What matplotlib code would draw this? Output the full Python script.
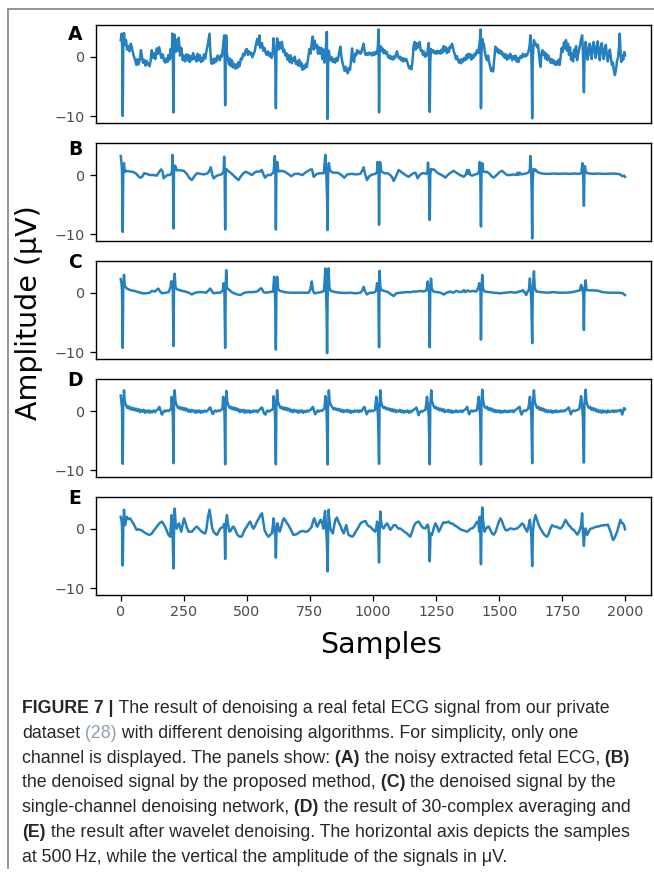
import matplotlib
matplotlib.use('Agg')
import matplotlib.pyplot as plt
from matplotlib import font_manager
from matplotlib.lines import Line2D

W, H = 654, 875

# (sample, amplitude in uV)
a_points = [
    (0, 2.8), (4, 3.9), (6, 1.0), (8, -10.0), (10, 1.5), (13, 4.0), (17, 2.0), (21, 2.8), (25, 1.2), (30, 1.8),
    (35, 0.9), (40, 2.2), (44, 1.6), (50, 0.4), (57, -0.6), (62, -1.4), (66, -0.4), (71, -1.3), (77, -0.2), (80, 1.1),
    (83, 0.3), (88, -1.0), (93, -0.5), (98, -1.5), (103, -0.7), (108, -1.2), (114, -1.6), (118, -0.8), (123, 1.1),
    (127, -0.2), (132, 0.6), (137, -0.4), (143, 1.4), (148, 0.5), (152, 1.6), (156, 0.8), (161, -0.2), (167, 0.4),
    (171, -0.6), (176, -1.0), (180, -0.3), (185, -0.9), (189, 0.3), (194, -0.5), (198, 1.3), (202, -0.2), (205, 3.9),
    (207, -1.0), (209, -9.4), (211, 0.5), (214, 3.7), (218, 0.8), (222, 2.8), (225, 1.0), (230, 3.2), (235, 0.2),
    (240, 1.5), (246, -0.6), (250, 0.2), (255, -0.8), (260, 0.4), (265, -0.6), (269, 0.3), (274, -0.9), (278, 0.1),
    (282, -0.5), (287, 0.6), (291, -0.4), (295, 0.0), (300, -0.8), (304, 0.5), (308, -0.6), (313, 0.3), (318, -0.9),
    (321, -0.2), (326, -0.7), (330, 0.4), (335, -0.3), (340, 1.0), (344, 1.8), (348, 2.8), (352, 3.9), (355, 1.0),
    (358, -0.8), (361, -1.2), (366, -0.4), (370, -1.1), (374, -0.3), (379, -0.8), (384, 0.2), (388, -0.2), (393, -0.6),
    (397, 0.3), (401, 0.0), (405, 1.5), (410, 3.6), (412, 0.5), (414, -8.2), (416, -0.5), (418, 3.6), (421, 0.5),
    (425, -0.4), (429, -1.3), (433, -0.3), (437, -1.6), (441, -0.6), (445, -1.8), (449, -1.2), (454, -2.0), (458, -1.3),
    (462, -1.9), (467, -0.9), (471, -1.6), (476, -0.3), (480, -0.5), (485, 0.5), (490, 0.2), (495, 1.1), (500, 1.3),
    (504, 0.3), (508, 0.9), (513, 0.4), (517, 0.7), (522, -0.1), (526, 0.4), (531, 0.9), (536, 2.0), (541, 3.0),
    (546, 2.0), (550, 3.6), (553, 1.5), (556, 2.0), (560, 2.3), (565, 1.0), (570, 1.5), (575, 0.6), (579, 0.3),
    (584, 0.9), (589, 0.1), (593, 0.6), (598, -0.2), (602, 0.5), (606, 3.1), (609, 0.5), (611, 1.0), (613, -1.0),
    (615, -8.7), (617, 0.5), (620, 3.1), (625, 1.2), (630, 2.4), (635, 1.4), (639, 2.5), (644, 0.8), (648, 1.2),
    (653, 0.2), (657, 0.6), (661, -0.5), (666, 0.3), (670, -0.9), (674, 0.2), (678, -1.1), (682, -0.3), (686, -0.7),
    (690, 0.0), (694, -1.2), (698, -0.8), (703, -1.5), (707, -0.5), (712, -1.6), (716, -1.0), (720, -2.2), (725, -1.5),
    (730, -2.0), (734, -1.2), (738, -1.7), (743, -0.2), (748, 1.3), (752, 0.5), (757, 2.2), (761, 3.4), (765, 1.2),
    (769, 2.7), (773, 1.5), (778, 2.0), (782, 0.5), (786, 1.6), (791, 0.5), (795, 1.5), (799, -0.4), (803, 1.2),
    (807, -1.0), (811, 0.6), (814, 2.0), (817, 4.2), (819, -2.0), (820, -10.5), (822, -1.5), (825, 1.0), (829, -0.2),
    (833, -0.6), (837, -0.1), (841, -0.9), (846, -0.4), (850, -1.0), (855, -0.2), (859, -0.7), (864, 0.2), (868, 1.2),
    (871, 1.7), (875, 0.0), (879, -1.0), (884, -1.8), (888, -2.4), (892, -1.7), (896, -2.2), (900, -2.8), (905, -1.9),
    (909, -2.2), (913, -0.6), (917, 1.4), (921, -0.5), (925, -0.9), (929, 0.5), (933, 0.2), (937, 1.1), (941, 0.6),
    (946, 0.9), (950, 0.5), (954, 0.8), (958, 1.5), (963, 2.2), (967, 0.8), (971, 0.3), (976, 0.6), (980, 0.3),
    (984, 0.7), (989, 0.4), (993, 0.6), (997, 0.2), (1002, 0.7), (1006, 0.3), (1010, 0.8), (1015, 0.5), (1019, 1.5),
    (1022, 4.6), (1024, -9.4), (1026, 0.5), (1030, 1.8), (1034, 1.0), (1038, 1.4), (1042, 0.6), (1046, 1.1), (1050, 0.5),
    (1055, 0.8), (1059, 0.1), (1063, -0.2), (1067, 0.2), (1071, -0.4), (1075, 0.0), (1080, -0.5), (1084, 0.1),
    (1088, -0.2), (1092, 0.5), (1095, 0.9), (1099, 0.2), (1103, -0.3), (1108, 0.0), (1112, -0.6), (1116, -0.2),
    (1120, -0.8), (1124, -0.3), (1128, -0.7), (1132, -0.4), (1136, -0.9), (1141, -1.7), (1145, -2.0), (1149, -1.6),
    (1153, -2.1), (1157, -0.5), (1161, 1.8), (1165, 2.5), (1169, 1.2), (1173, 2.3), (1177, 1.5), (1181, 2.0), (1185, 2.5),
    (1189, 1.0), (1194, 1.1), (1198, 0.3), (1202, 0.9), (1206, 0.0), (1210, 0.5), (1214, 0.2), (1218, 1.5), (1221, 2.3),
    (1223, -1.0), (1225, -9.3), (1227, -1.0), (1230, 1.3), (1234, 0.8), (1238, 1.1), (1242, 0.6), (1246, 0.9),
    (1251, 0.5), (1255, 1.0), (1259, 0.6), (1263, 0.9), (1267, 0.5), (1271, 1.2), (1276, 0.7), (1280, 1.8), (1284, 1.0),
    (1288, 1.6), (1293, 0.6), (1297, 1.4), (1301, 0.8), (1305, 1.7), (1309, 1.5), (1313, 2.2), (1317, 1.6), (1321, 0.8),
    (1325, 0.3), (1329, -0.4), (1333, 0.1), (1337, -0.6), (1341, -1.0), (1345, -0.5), (1349, -1.1), (1353, -0.4),
    (1357, -0.8), (1361, -0.2), (1366, -0.6), (1370, 0.3), (1374, -0.3), (1378, 0.5), (1382, -0.1), (1386, 0.4),
    (1390, -0.5), (1394, 0.2), (1398, -0.2), (1402, 0.5), (1406, 0.2), (1410, 0.9), (1413, 1.1), (1417, 0.6),
    (1421, 1.8), (1424, 2.8), (1426, 4.6), (1428, -8.7), (1430, 0.5), (1433, 3.0), (1436, 1.5), (1439, 2.2), (1443, 0.9),
    (1447, 0.0), (1452, -0.6), (1456, 0.2), (1460, -0.8), (1464, -1.6), (1468, -2.4), (1472, -2.0), (1476, -2.5),
    (1480, -0.6), (1485, 1.7), (1489, 0.9), (1493, 1.4), (1497, 0.6), (1502, 1.1), (1506, 0.5), (1510, 0.9), (1514, 0.2),
    (1518, 0.5), (1522, -0.2), (1527, 0.4), (1531, -0.5), (1535, 0.2), (1539, -0.3), (1544, 0.5), (1548, 0.0),
    (1552, -0.6), (1556, 0.1), (1560, -0.4), (1565, 0.2), (1569, -0.8), (1573, -0.2), (1577, -0.9), (1581, -0.3),
    (1585, 0.1), (1590, -0.2), (1594, 0.5), (1598, 0.3), (1602, 0.0), (1606, 0.4), (1610, 0.2), (1614, 0.6), (1618, 1.2),
    (1621, 2.0), (1624, 3.6), (1627, 1.2), (1629, -2.0), (1631, -10.4), (1633, -1.0), (1635, 1.0), (1638, 2.8),
    (1642, 2.0), (1646, 2.2), (1650, 1.6), (1654, 2.0), (1658, 0.4), (1662, -1.2), (1664, -1.7), (1667, 0.2), (1671, 1.1),
    (1675, 0.3), (1679, 0.8), (1683, -0.3), (1687, 0.5), (1691, -0.6), (1695, 0.2), (1699, -0.2), (1704, -1.0),
    (1708, -0.4), (1712, -1.1), (1716, -0.6), (1720, -1.2), (1724, -1.4), (1728, -0.8), (1732, -1.3), (1736, -0.5),
    (1740, -1.4), (1744, 0.0), (1748, 1.5), (1752, 0.8), (1757, 2.4), (1761, 1.4), (1765, 2.8), (1769, 1.0), (1773, 2.2),
    (1777, 0.3), (1781, 1.6), (1785, -0.5), (1789, 0.6), (1793, -0.8), (1797, 1.2), (1801, 0.0), (1805, 1.8),
    (1809, -0.6), (1813, 0.4), (1817, 1.2), (1821, 2.0), (1825, 3.0), (1829, 3.6), (1832, 1.0), (1834, -2.0),
    (1836, -6.0), (1838, -1.0), (1840, 0.8), (1843, 2.5), (1847, 1.0), (1851, -0.5), (1855, 1.3), (1859, 2.2),
    (1863, 0.4), (1867, -0.4), (1871, 1.8), (1875, 2.5), (1879, 0.8), (1883, -0.2), (1887, 1.7), (1891, 2.6), (1895, 0.6),
    (1899, -0.6), (1903, 1.5), (1907, 2.3), (1911, 0.5), (1915, -0.4), (1919, 1.4), (1923, 2.0), (1927, 0.3),
    (1931, -0.8), (1935, 0.6), (1939, 1.2), (1943, -0.2), (1947, -1.4), (1951, -1.0), (1955, -2.4), (1959, -3.1),
    (1963, -2.2), (1967, -0.8), (1971, -0.2), (1975, 1.5), (1978, 3.9), (1981, 1.0), (1984, -0.9), (1988, 0.2),
    (1992, -0.5), (1996, 0.8), (1999, 0.2),
]

b_points = [
    (0, 3.2), (3, 2.0), (5, 1.0), (8, -9.6), (10, 1.0), (13, 2.0), (16, 0.5), (22, 0.7), (35, 0.6), (50, 0.5),
    (62, 0.2), (70, -0.2), (77, -0.45), (85, -0.3), (93, 0.3), (103, 0.2), (115, 0.0), (130, 0.0), (143, -0.1),
    (152, 0.5), (160, 0.95), (166, 0.6), (170, -0.55), (176, -0.3), (185, 0.0), (196, 0.0), (203, 0.5), (205, 3.4),
    (207, 0.5), (209, -9.0), (211, 0.3), (214, 1.6), (217, 1.5), (222, 0.8), (235, 0.8), (250, 0.7), (262, 0.2),
    (272, -0.5), (282, -0.85), (292, -0.2), (302, 0.3), (315, 0.2), (330, 0.1), (345, 0.3), (352, 0.8), (357, 1.3),
    (362, 0.2), (368, -0.55), (378, -0.2), (388, 0.0), (400, 0.1), (408, 0.6), (410, 3.1), (412, 0.3), (414, -9.2),
    (416, 0.5), (419, 1.0), (425, 0.7), (438, 0.3), (452, -0.3), (467, -0.85), (475, -0.3), (486, 0.3), (496, 0.55),
    (508, 0.3), (520, 0.0), (533, 0.5), (546, 0.6), (553, 0.6), (559, 0.85), (565, 0.2), (572, -0.45), (582, 0.0),
    (595, 0.0), (606, 0.5), (611, 3.2), (613, 0.3), (615, -9.2), (617, 0.5), (620, 2.2), (625, 0.6), (635, 0.7),
    (648, 0.6), (660, 0.3), (676, -0.2), (690, 0.2), (705, 0.2), (720, 0.0), (735, 0.5), (751, 0.9), (758, 0.95),
    (765, -0.3), (778, 0.2), (790, 0.3), (805, 0.3), (811, 3.4), (815, 0.4), (818, -4.0), (820, -9.3), (822, 0.0),
    (825, 2.0), (829, 0.8), (840, 0.4), (860, 0.4), (875, 0.0), (886, -0.45), (898, 0.1), (915, 0.2), (935, 0.1),
    (950, 0.2), (958, 0.8), (963, 1.3), (968, 0.3), (976, -0.85), (985, -0.2), (998, 0.1), (1010, 0.2), (1016, 0.5),
    (1018, 2.2), (1020, 0.5), (1022, 1.2), (1024, -8.4), (1026, 0.3), (1028, 2.2), (1033, 0.6), (1045, 0.3),
    (1058, 0.3), (1068, 0.0), (1075, -0.3), (1082, -1.0), (1090, -0.3), (1102, 0.85), (1112, 0.5), (1122, 0.2),
    (1132, -0.1), (1141, -0.3), (1150, 0.0), (1160, 0.3), (1168, 0.4), (1172, 0.0), (1177, -0.55), (1185, 0.0),
    (1195, 0.3), (1205, 0.3), (1212, 0.2), (1216, 0.5), (1218, 2.1), (1221, 0.3), (1223, -2.0), (1225, -7.6),
    (1227, 0.0), (1230, 1.0), (1234, 0.9), (1241, 0.95), (1252, 0.5), (1262, 0.2), (1272, 0.0), (1280, -0.2),
    (1287, -0.45), (1296, 0.0), (1308, 0.4), (1320, 0.7), (1330, 0.4), (1345, 0.0), (1360, -0.3), (1368, 0.1),
    (1373, 0.85), (1377, 0.2), (1380, 0.85), (1386, 0.0), (1393, -0.1), (1405, 0.1), (1415, 0.2), (1420, 0.6),
    (1423, 2.2), (1425, 0.6), (1428, -8.7), (1430, 0.3), (1433, 2.0), (1437, 0.6), (1445, 0.5), (1452, 0.55),
    (1462, 0.2), (1470, -0.2), (1479, -0.45), (1490, 0.0), (1502, 0.5), (1512, 0.7), (1522, 0.3), (1532, 0.0),
    (1545, 0.0), (1558, 0.1), (1568, 0.0), (1573, 0.4), (1577, 0.0), (1582, 0.4), (1588, 0.1), (1600, 0.2), (1610, 0.3),
    (1618, 0.5), (1622, 1.0), (1624, 3.2), (1627, 0.5), (1629, -3.0), (1631, -10.7), (1633, -1.0), (1636, 1.0),
    (1640, 0.7), (1644, 0.95), (1652, 0.5), (1664, 0.3), (1680, 0.2), (1700, 0.2), (1720, 0.25), (1740, 0.2),
    (1760, 0.25), (1780, 0.2), (1800, 0.25), (1815, 0.2), (1826, 0.3), (1830, 2.0), (1833, 0.3), (1836, -5.2),
    (1838, 0.0), (1840, 1.5), (1843, 0.6), (1850, 0.3), (1870, 0.2), (1890, 0.25), (1910, 0.2), (1930, 0.2),
    (1950, 0.25), (1970, 0.2), (1980, 0.1), (1988, -0.2), (1995, -0.1), (1999, -0.3),
]

c_points = [
    (0, 2.3), (3, 1.6), (5, 0.5), (8, -9.3), (10, 0.8), (13, 3.0), (16, 1.2), (24, 0.7), (40, 0.4), (55, 0.3),
    (70, 0.1), (85, -0.1), (100, -0.1), (115, 0.0), (123, 0.3), (136, 0.2), (143, 0.5), (149, 0.7), (156, 0.2),
    (163, -0.1), (178, 0.0), (190, 0.1), (198, 1.0), (200, 1.9), (204, 1.2), (206, 1.9), (209, -9.0), (211, 0.5),
    (214, 3.2), (217, 1.0), (222, 0.6), (235, 0.4), (255, 0.2), (270, 0.0), (282, -0.3), (295, 0.0), (310, 0.1),
    (325, 0.1), (339, 0.0), (348, 0.4), (355, 0.7), (362, 0.2), (368, -0.1), (380, 0.0), (395, 0.0), (405, 0.4),
    (408, 1.6), (411, 0.5), (414, -9.3), (416, 0.5), (418, 3.8), (421, 0.8), (427, 0.6), (440, 0.1), (455, -0.2),
    (474, -0.4), (490, 0.0), (505, 0.1), (525, 0.1), (540, 0.2), (547, 0.4), (553, 0.7), (559, 0.7), (566, 0.1),
    (575, 0.0), (590, 0.1), (604, 0.2), (608, 2.7), (611, 0.5), (613, -3.0), (615, -9.6), (617, 0.0), (620, 2.7),
    (624, 0.6), (632, 0.3), (650, 0.1), (670, 0.0), (690, 0.0), (710, 0.0), (730, 0.0), (745, 0.0), (752, 0.6),
    (757, 1.9), (762, 0.4), (767, -0.1), (780, 0.0), (795, 0.1), (805, 0.3), (808, 1.6), (811, 4.1), (813, 1.0),
    (816, -3.0), (818, -10.2), (820, -1.0), (822, 1.0), (824, 4.1), (827, 0.8), (833, 0.3), (850, 0.1), (870, 0.0),
    (890, -0.05), (910, 0.0), (930, -0.1), (950, 0.0), (958, 0.4), (963, 1.0), (968, 0.3), (976, -0.3), (988, 0.0),
    (1003, 0.0), (1012, 0.3), (1016, 1.6), (1019, 0.6), (1021, 1.6), (1024, -9.2), (1026, 3.7), (1029, 1.0),
    (1034, 0.4), (1045, 0.3), (1060, 0.1), (1072, -0.3), (1082, -0.55), (1092, -0.1), (1108, 0.0), (1130, 0.1),
    (1150, 0.1), (1161, 0.2), (1175, 0.2), (1188, 0.3), (1200, 0.2), (1212, 0.4), (1217, 1.9), (1220, 0.5),
    (1222, 1.2), (1225, -9.2), (1227, 0.5), (1230, 2.4), (1233, 0.6), (1240, 0.2), (1255, 0.1), (1268, 0.0),
    (1280, -0.3), (1292, 0.0), (1305, 0.2), (1318, 0.0), (1330, 0.3), (1345, 0.1), (1356, 0.2), (1360, 0.45),
    (1366, 0.1), (1375, 0.4), (1382, 0.2), (1395, 0.3), (1410, 0.2), (1417, 0.8), (1421, 1.6), (1424, 0.5),
    (1426, 1.0), (1428, -7.9), (1430, 0.5), (1433, 3.0), (1436, 0.7), (1442, 0.2), (1460, 0.1), (1480, 0.0),
    (1505, -0.1), (1525, 0.0), (1545, 0.1), (1565, 0.0), (1580, 0.2), (1590, 0.3), (1594, 0.45), (1598, 0.1),
    (1603, 0.1), (1607, -0.4), (1612, 0.1), (1618, 0.5), (1622, 2.4), (1625, 0.5), (1628, -2.0), (1631, -8.5),
    (1633, -0.5), (1635, 1.5), (1638, 3.6), (1641, 0.8), (1648, 0.2), (1665, 0.1), (1690, 0.0), (1715, 0.1),
    (1740, 0.0), (1765, 0.0), (1790, 0.1), (1810, 0.3), (1820, 0.4), (1825, 1.3), (1829, 0.5), (1831, 0.8),
    (1834, -1.0), (1836, -6.3), (1838, 0.0), (1840, 1.0), (1843, 2.1), (1846, 0.5), (1852, 0.4), (1870, 0.4),
    (1890, 0.35), (1910, 0.1), (1935, 0.0), (1955, 0.0), (1975, 0.0), (1990, -0.1), (1999, -0.4),
]

d_points = [
    (0, 2.6), (3, 1.4), (5, 0.6), (8, -8.9), (10, 1.0), (13, 3.5), (16, 1.6), (21, 1.0), (26, 0.5), (31, 0.8),
    (36, 0.3), (41, 0.6), (46, 0.2), (51, 0.5), (56, 0.1), (61, 0.4), (66, 0.0), (71, 0.3), (76, -0.2), (81, 0.2),
    (86, -0.1), (91, 0.2), (96, -0.3), (101, 0.1), (106, -0.2), (111, 0.1), (116, -0.3), (121, 0.0), (126, -0.2),
    (131, 0.1), (136, -0.2), (141, 0.1), (146, 0.2), (150, 0.5), (153, 0.7), (157, 0.2), (161, -0.4), (164, -0.6),
    (168, -0.2), (173, 0.1), (178, -0.1), (184, 0.1), (190, 0.0), (196, 0.2), (200, 0.5), (202, 2.4), (205, 0.8),
    (207, -1.5), (209, -8.8), (211, 1.0), (214, 3.5), (217, 1.6), (222, 1.0), (227, 0.5), (232, 0.7), (237, 0.3),
    (242, 0.6), (247, 0.2), (252, 0.5), (257, 0.1), (262, 0.4), (267, -0.1), (272, 0.2), (277, -0.2), (282, 0.2),
    (287, -0.1), (292, 0.1), (297, -0.3), (302, 0.1), (307, -0.2), (312, 0.1), (317, -0.3), (322, 0.0), (327, -0.2),
    (332, 0.1), (337, -0.1), (342, 0.0), (347, 0.2), (351, 0.5), (355, 0.6), (359, 0.1), (363, -0.4), (366, -0.5),
    (370, -0.1), (375, 0.1), (380, -0.1), (386, 0.1), (392, 0.0), (398, 0.2), (403, 0.4), (406, 2.4), (410, 0.8),
    (412, -1.5), (414, -9.0), (416, 1.0), (419, 3.4), (422, 1.6), (427, 1.0), (432, 0.5), (437, 0.7), (442, 0.3),
    (447, 0.6), (452, 0.2), (457, 0.5), (462, 0.1), (467, 0.3), (472, -0.2), (477, 0.2), (482, -0.1), (487, 0.2),
    (492, -0.3), (497, 0.1), (502, -0.2), (507, 0.1), (512, -0.3), (517, 0.0), (522, -0.2), (527, 0.1), (532, -0.1),
    (537, 0.1), (542, -0.2), (547, 0.1), (552, 0.3), (556, 0.5), (560, 0.6), (564, 0.1), (568, -0.4), (574, -0.6),
    (578, -0.1), (583, 0.1), (588, -0.1), (594, 0.1), (600, 0.2), (604, 0.5), (606, 2.5), (610, 0.8), (612, -1.5),
    (615, -9.0), (617, 1.0), (620, 3.5), (623, 1.6), (628, 1.0), (633, 0.5), (638, 0.7), (643, 0.3), (648, 0.6),
    (653, 0.2), (658, 0.5), (663, 0.1), (668, 0.4), (673, -0.1), (678, 0.2), (683, -0.2), (688, 0.2), (693, -0.1),
    (698, 0.1), (703, -0.3), (708, 0.1), (713, -0.2), (718, 0.1), (723, -0.3), (728, 0.0), (733, -0.2), (738, 0.1),
    (743, -0.1), (748, 0.1), (753, 0.2), (758, 0.5), (762, 0.7), (766, 0.1), (771, -0.55), (776, -0.2), (781, 0.1),
    (786, -0.1), (792, 0.1), (798, 0.0), (804, 0.3), (808, 0.5), (811, 2.5), (815, 0.8), (817, -1.5), (820, -9.0),
    (822, 1.0), (825, 3.5), (828, 1.6), (833, 1.0), (838, 0.7), (843, 0.3), (848, 0.5), (853, 0.2), (858, 0.4),
    (863, 0.1), (868, 0.3), (873, -0.1), (878, 0.2), (883, -0.2), (888, 0.1), (893, -0.1), (898, 0.2), (903, -0.2),
    (908, 0.1), (913, -0.3), (918, 0.0), (923, -0.2), (928, 0.1), (933, -0.1), (938, 0.1), (943, -0.2), (948, 0.1),
    (953, -0.1), (958, 0.2), (962, 0.5), (966, 0.7), (970, 0.1), (974, -0.4), (976, -0.55), (980, -0.1), (985, 0.1),
    (990, -0.1), (996, 0.1), (1002, 0.0), (1008, 0.2), (1013, 2.4), (1017, 0.8), (1020, -1.0), (1024, -8.9),
    (1026, 1.0), (1029, 3.5), (1032, 1.6), (1037, 0.8), (1042, 0.5), (1047, 0.7), (1052, 0.3), (1057, 0.5),
    (1062, 0.2), (1067, 0.4), (1072, 0.0), (1077, 0.3), (1082, -0.1), (1087, 0.2), (1092, -0.2), (1097, 0.1),
    (1102, -0.1), (1107, 0.2), (1112, -0.2), (1117, 0.1), (1122, -0.3), (1127, 0.0), (1132, -0.2), (1137, 0.1),
    (1142, -0.3), (1147, 0.0), (1152, -0.2), (1157, 0.1), (1162, 0.2), (1167, 0.4), (1172, 0.6), (1176, 0.0),
    (1181, -0.7), (1186, -0.2), (1191, 0.0), (1196, -0.1), (1202, 0.1), (1208, 0.2), (1214, 2.4), (1218, 0.8),
    (1221, -1.0), (1225, -9.0), (1227, 1.0), (1231, 3.5), (1234, 1.6), (1239, 1.0), (1244, 0.5), (1249, 0.7),
    (1254, 0.3), (1259, 0.5), (1264, 0.1), (1269, 0.4), (1274, 0.0), (1279, 0.3), (1284, -0.2), (1289, 0.1),
    (1294, -0.1), (1299, 0.2), (1304, -0.2), (1309, 0.1), (1314, -0.3), (1319, 0.0), (1324, -0.2), (1329, 0.1),
    (1334, -0.2), (1339, 0.0), (1344, -0.1), (1349, 0.1), (1354, -0.2), (1359, 0.1), (1364, 0.2), (1369, 0.4),
    (1373, 0.7), (1377, 0.1), (1381, -0.55), (1386, -0.1), (1391, 0.1), (1396, -0.1), (1402, 0.1), (1408, 0.0),
    (1413, 0.3), (1419, 2.4), (1422, 0.8), (1425, -1.0), (1428, -9.0), (1430, 1.0), (1433, 3.6), (1437, 1.6),
    (1442, 0.7), (1447, 0.5), (1452, 0.7), (1457, 0.2), (1462, 0.5), (1467, 0.1), (1472, 0.4), (1477, -0.1),
    (1482, 0.2), (1487, -0.2), (1492, 0.1), (1497, -0.2), (1502, 0.1), (1507, -0.3), (1512, 0.0), (1517, -0.2),
    (1522, 0.1), (1527, -0.2), (1532, 0.0), (1537, -0.2), (1542, 0.1), (1547, -0.1), (1552, 0.1), (1557, -0.2),
    (1562, 0.1), (1567, 0.2), (1572, 0.4), (1577, 0.6), (1581, 0.7), (1584, 0.0), (1589, -0.6), (1594, -0.1),
    (1599, 0.1), (1605, 0.0), (1611, 0.2), (1616, 0.5), (1622, 2.4), (1625, 0.8), (1628, -1.0), (1631, -8.8),
    (1633, 1.0), (1638, 3.5), (1641, 1.6), (1646, 0.9), (1651, 0.5), (1656, 0.7), (1661, 0.2), (1666, 0.5),
    (1671, 0.1), (1676, 0.4), (1681, -0.1), (1686, 0.2), (1691, -0.2), (1696, 0.1), (1701, -0.2), (1706, 0.1),
    (1711, -0.3), (1716, 0.0), (1721, -0.2), (1726, 0.1), (1731, -0.2), (1736, 0.0), (1741, -0.1), (1746, 0.1),
    (1751, -0.1), (1756, 0.1), (1761, 0.0), (1766, 0.2), (1771, 0.4), (1776, 0.6), (1780, 0.0), (1784, -0.55),
    (1789, -0.1), (1794, 0.1), (1800, 0.0), (1806, 0.1), (1812, 0.2), (1818, 0.4), (1825, 2.5), (1829, 0.8),
    (1832, -1.0), (1836, -8.7), (1838, 1.0), (1843, 3.6), (1846, 1.6), (1851, 0.9), (1856, 0.5), (1861, 0.7),
    (1866, 0.2), (1871, 0.5), (1876, 0.1), (1881, 0.4), (1886, -0.1), (1891, 0.2), (1896, -0.2), (1901, 0.1),
    (1906, -0.3), (1911, 0.1), (1916, -0.2), (1921, 0.0), (1926, -0.3), (1931, 0.1), (1936, -0.2), (1941, 0.0),
    (1946, -0.1), (1951, 0.1), (1956, -0.2), (1961, 0.1), (1966, -0.1), (1971, 0.1), (1976, 0.0), (1982, 0.2),
    (1988, -0.6), (1992, 0.0), (1995, 0.5), (1999, 0.3),
]

e_points = [
    (0, 2.0), (3, 1.5), (5, 0.5), (8, -6.2), (10, 0.0), (13, 3.2), (17, 0.6), (20, 1.2), (24, 2.0), (30, 1.6),
    (37, 1.75), (44, 1.3), (50, 0.9), (57, 0.3), (63, -0.2), (70, -0.1), (77, -0.2), (84, -0.3), (90, -0.5),
    (100, -0.8), (110, -1.0), (117, -1.0), (123, -0.8), (133, -0.2), (143, 0.35), (153, 0.9), (163, 1.2), (170, 0.8),
    (176, 0.35), (183, -0.4), (189, -1.0), (196, -1.35), (199, 0.5), (202, 2.3), (204, 0.2), (206, -1.6), (209, -6.7),
    (211, -1.0), (214, 3.4), (218, 0.6), (222, 0.0), (227, 0.6), (231, 0.9), (236, 0.1), (240, -0.5), (245, 0.6),
    (251, 1.75), (258, 0.8), (264, 0.0), (269, -0.5), (276, -0.5), (282, -0.5), (290, -0.1), (296, 0.2), (302, 0.35),
    (310, 0.0), (316, -0.3), (321, -0.5), (328, -0.7), (335, -0.8), (340, 0.0), (346, 2.0), (352, 3.2), (357, 1.8),
    (362, 0.2), (368, -0.5), (374, -0.8), (381, -1.05), (388, -0.5), (394, 0.0), (400, 0.2), (407, 0.35), (410, 0.8),
    (412, -0.5), (414, -5.1), (416, -0.5), (418, 1.2), (421, 2.3), (425, 0.8), (431, -0.5), (437, -0.3), (442, 0.2),
    (447, 0.35), (452, 0.0), (458, -0.6), (463, -1.05), (470, -1.3), (475, -1.35), (480, -1.3), (487, -0.6),
    (494, 0.0), (500, 0.35), (507, 0.9), (513, 1.2), (519, 0.6), (526, 0.0), (533, 0.5), (540, 1.2), (547, 1.7),
    (554, 2.3), (560, 2.6), (565, 1.2), (570, -0.2), (573, -0.5), (579, -1.0), (586, -1.35), (593, -1.0), (599, -0.8),
    (603, 0.5), (606, 1.75), (609, 0.2), (611, -0.8), (613, -1.5), (615, -4.9), (617, -1.0), (620, 0.9), (622, 0.9),
    (626, 0.0), (630, -0.5), (636, 0.3), (641, 1.2), (646, 1.75), (652, 1.5), (658, 1.0), (665, 0.6), (672, 0.0),
    (678, -0.5), (685, -1.05), (692, -1.0), (698, -0.9), (705, -0.7), (712, -0.5), (718, -0.4), (725, -0.4),
    (731, -0.5), (738, -0.5), (745, -0.3), (751, 0.0), (757, 0.35), (762, 1.2), (767, 1.75), (772, 1.2), (776, 0.5),
    (780, 0.35), (785, 0.9), (790, 1.4), (794, 1.5), (799, 0.8), (804, 0.0), (807, 2.0), (810, 3.0), (813, 0.8),
    (815, -0.5), (817, -2.0), (820, -7.2), (822, -1.0), (824, 3.2), (827, 1.5), (831, 0.0), (836, -0.5), (841, -0.8),
    (846, 0.5), (851, 1.5), (857, 1.9), (863, 1.2), (870, 0.6), (877, -0.2), (884, -0.8), (889, 0.0), (894, 0.6),
    (898, -0.2), (903, -1.05), (910, -1.2), (917, -1.35), (924, -1.1), (930, -0.6), (936, -0.2), (943, 0.3),
    (949, 0.8), (956, 1.1), (963, 1.2), (970, 1.3), (976, 0.8), (983, 0.4), (989, 0.35), (996, 0.0), (1003, -0.3),
    (1009, -0.5), (1013, 0.2), (1016, 1.2), (1019, 0.5), (1021, -1.0), (1024, -5.7), (1026, -0.5), (1029, 2.9),
    (1032, 1.2), (1036, 0.3), (1042, 0.05), (1049, 0.6), (1056, 0.9), (1062, 0.4), (1069, -0.2), (1076, 0.2),
    (1082, 0.6), (1089, 0.6), (1095, 0.3), (1101, 0.0), (1108, 0.05), (1115, -0.2), (1121, -0.4), (1128, -0.6),
    (1135, -0.8), (1141, -1.1), (1148, -1.35), (1154, -0.6), (1161, 0.3), (1168, 0.9), (1174, 1.1), (1181, 1.2),
    (1187, 0.8), (1194, 0.35), (1200, 0.1), (1208, 0.05), (1213, 0.5), (1217, 0.7), (1220, 0.2), (1222, -1.0),
    (1225, -5.5), (1228, -0.8), (1234, -1.05), (1240, 0.0), (1247, 0.9), (1253, 0.5), (1261, -0.5), (1267, 0.0),
    (1273, 0.6), (1280, 1.1), (1287, 1.0), (1294, 1.1), (1300, 1.2), (1306, 0.9), (1313, 0.9), (1320, 0.7),
    (1326, 0.5), (1333, 0.35), (1340, 0.1), (1346, -0.1), (1353, -0.2), (1360, -0.3), (1367, -0.4), (1373, -0.5),
    (1380, -0.3), (1386, 0.0), (1393, 0.05), (1400, 0.3), (1406, 0.7), (1413, 1.2), (1418, 1.0), (1421, -0.5),
    (1423, 2.0), (1425, 0.5), (1428, -6.0), (1430, 0.0), (1433, 3.6), (1436, 1.5), (1442, -0.5), (1448, 0.0),
    (1454, 0.3), (1459, 0.35), (1465, -0.2), (1472, -0.8), (1479, -1.0), (1486, -0.5), (1492, 0.3), (1499, 1.2),
    (1505, 1.75), (1512, 1.2), (1518, 0.4), (1525, -0.2), (1531, -0.3), (1538, -0.1), (1545, 0.05), (1551, 0.0),
    (1558, -0.1), (1565, 0.0), (1571, 0.05), (1578, 0.3), (1585, 0.6), (1591, 0.9), (1598, 0.6), (1604, 0.0),
    (1611, -0.5), (1616, 0.3), (1619, 1.0), (1622, 1.5), (1625, 0.2), (1628, -1.5), (1631, -6.3), (1634, -0.5),
    (1638, 1.2), (1644, 2.3), (1650, 1.5), (1657, 0.6), (1664, 0.0), (1671, -0.5), (1677, -0.9), (1684, -1.2),
    (1690, -1.35), (1697, -0.8), (1703, 0.0), (1710, 0.6), (1717, 0.4), (1724, 0.35), (1730, 0.3), (1737, 0.1),
    (1743, 0.05), (1750, 0.3), (1757, 0.9), (1763, 1.5), (1770, 1.0), (1776, 0.6), (1783, 0.3), (1790, -0.1),
    (1796, -0.2), (1803, -0.6), (1810, -1.0), (1816, -0.6), (1821, 0.0), (1825, 0.6), (1829, 2.6), (1831, 0.5),
    (1833, -1.05), (1836, -2.9), (1839, -0.8), (1843, 0.05), (1846, -0.6), (1849, -1.05), (1855, -0.5), (1862, 0.0),
    (1869, 0.05), (1876, 0.2), (1882, 0.3), (1889, 0.35), (1896, 0.4), (1902, 0.5), (1909, 0.55), (1915, 0.6),
    (1922, 0.6), (1931, 0.7), (1937, 0.0), (1942, -0.5), (1947, -1.3), (1952, -1.9), (1958, -1.5), (1963, -1.0),
    (1968, -0.5), (1974, 0.5), (1981, 1.5), (1986, 1.0), (1991, 0.9), (1995, 0.6), (1999, -0.1),
]

panel_names = ['A', 'B', 'C', 'D', 'E']
x_ticks = [0, 250, 500, 750, 1000, 1250, 1500, 1750, 2000]
y_ticks = [-10, 0]

caption_lines = [
    [('FIGURE 7 |', 'bold'), (' The result of denoising a real fetal ECG signal from our private', 'normal')],
    [('dataset', 'normal'), (' (28)', 'link'), (' with different denoising algorithms. For simplicity, only one', 'normal')],
    [('channel is displayed. The panels show:', 'normal'), (' (A)', 'bold'),
     (' the noisy extracted fetal ECG,', 'normal'), (' (B)', 'bold')],
    [('the denoised signal by the proposed method,', 'normal'), (' (C)', 'bold'),
     (' the denoised signal by the', 'normal')],
    [('single-channel denoising network,', 'normal'), (' (D)', 'bold'),
     (' the result of 30-complex averaging and', 'normal')],
    [('(E)', 'bold'), (' the result after wavelet denoising. The horizontal axis depicts the samples', 'normal')],
    [('at 500\u2009Hz, while the vertical the amplitude of the signals in \u03bcV.', 'normal')],
]


def px_box(left, top, width, height):
    return [left / W, 1 - (top + height) / H, width / W, height / H]


def draw_segments(fig, renderer, x_px, y_px, segments, family, size):
    x = x_px
    texts = []
    for text, style in segments:
        color = '#8ea0b6' if style == 'link' else '#2a2627'
        weight = 'bold' if style == 'bold' else 'normal'
        t = fig.text(x / W, 1 - y_px / H, text, fontsize=size, fontweight=weight, color=color,
                     family=family, va='baseline', ha='left')
        x += t.get_window_extent(renderer).width
        texts.append(t)
    return x - x_px, texts


def main():
    fig = plt.figure(figsize=(W / 100, H / 100), dpi=100)
    renderer = fig.canvas.get_renderer()

    # grey frame around the figure (top and left edges visible)
    fig.add_artist(Line2D([8 / W, 1], [1 - 9 / H, 1 - 9 / H], transform=fig.transFigure, color='#8c8c8c', lw=1.3))
    fig.add_artist(Line2D([8 / W, 8 / W], [1 - 9 / H, 1 - 868 / H], transform=fig.transFigure, color='#8c8c8c', lw=1.3))

    series = [a_points, b_points, c_points, d_points, e_points]
    panel_tops = [25, 143.3, 261, 379.3, 497]
    label_y = [35, 149.5, 262.5, 380, 498]

    for i, (name, pts) in enumerate(zip(panel_names, series)):
        ax = fig.add_axes(px_box(95.5, panel_tops[i], 555, 98))
        xs = [p[0] for p in pts]
        ys = [p[1] for p in pts]
        ax.plot(xs, ys, color='#2580bf', lw=1.8)
        ax.set_xlim(-100, 2100)
        ax.set_ylim(-11.18, 5.35)
        ax.set_yticks(y_ticks)
        ax.tick_params(labelsize=10.3, labelcolor='#4a4a4a', length=4, width=0.9)
        if i < 4:
            ax.set_xticks([])
        else:
            ax.set_xticks(x_ticks)
        for sp in ax.spines.values():
            sp.set_linewidth(1.0)
        fig.text(75 / W, 1 - label_y[i] / H, name, fontsize=13.5, fontweight='bold', ha='center', va='center')

    fig.text(29 / W, 1 - 312.5 / H, 'Amplitude (\u03bcV)', rotation=90, fontsize=20.5, ha='center', va='center')
    fig.text(381.5 / W, 1 - 653 / H, 'Samples', fontsize=20.5, ha='center', va='baseline')

    # caption
    names = set(f.name for f in font_manager.fontManager.ttflist)
    cap_font = 'Liberation Sans Narrow' if 'Liberation Sans Narrow' in names else 'Liberation Sans'
    family = [cap_font, 'DejaVu Sans']
    width, tmp = draw_segments(fig, renderer, 22, 700, caption_lines[4], family, 14)
    for t in tmp:
        t.remove()
    size = 14 * 612 / width

    baselines = [713, 738, 763, 787, 812, 837, 862]
    for segs, yb in zip(caption_lines, baselines):
        draw_segments(fig, renderer, 22, yb, segs, family, size)

    fig.savefig('out.png', dpi=100)


if __name__ == "__main__":
    main()
